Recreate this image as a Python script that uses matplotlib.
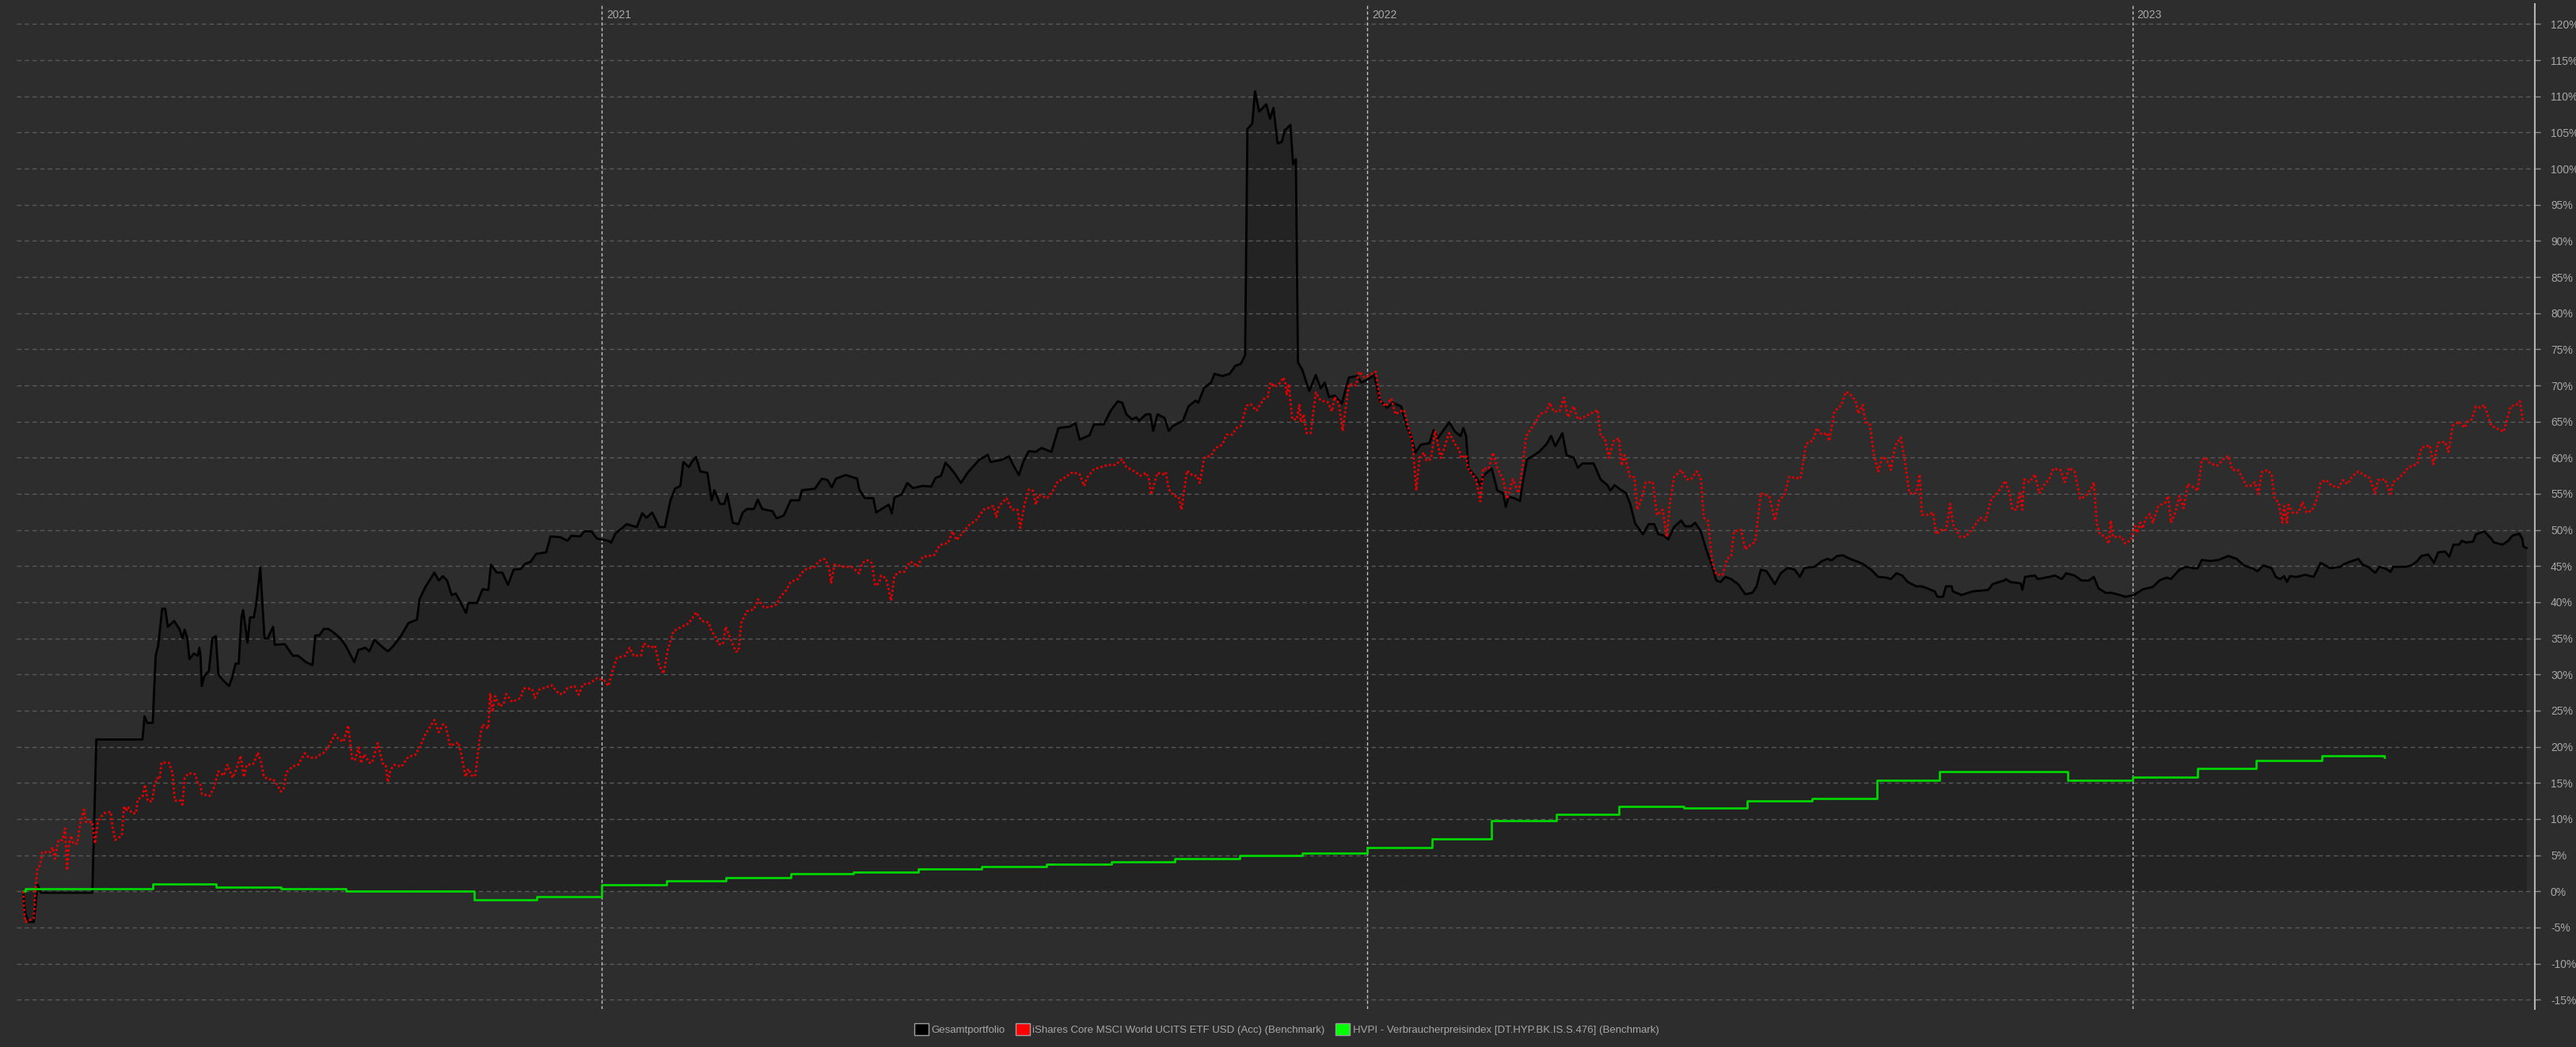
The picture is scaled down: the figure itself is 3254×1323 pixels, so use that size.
import numpy as np
import matplotlib
matplotlib.use('Agg')
import matplotlib.pyplot as plt
import matplotlib.dates as mdates
from matplotlib.patches import Patch

plt.rcParams['font.family'] = ['Liberation Sans', 'DejaVu Sans']

## data: (days since START, % change)
START = '2020-03-31'

black_pts = [
    (0, 0.0), (0.9, -3.0), (2.8, -4.25), (5.1, -4.25), (6.9, 0.9), (8.5, -0.2), (33.0, -0.2), (34.9, 21.0),
    (56.9, 21.0), (57.9, 24.2), (59.2, 23.3), (61.8, 23.3), (63.2, 32.6), (64.4, 34.0), (66.3, 39.1), (67.8, 39.1),
    (69.0, 36.6), (72.0, 37.4), (74.5, 36.3), (76.0, 35.0), (77.0, 36.2), (78.3, 35.0), (79.3, 32.1), (81.4, 32.9),
    (83.3, 32.6), (84.0, 33.7), (84.6, 32.6), (85.2, 28.4), (86.4, 29.8), (88.6, 30.5), (90.2, 35.0), (91.9, 35.3),
    (93.1, 30.0), (95.3, 29.2), (98.2, 28.4), (99.7, 29.6), (101.3, 31.5), (102.8, 31.5), (104.1, 37.9), (104.9, 38.9),
    (107.0, 34.4), (108.2, 37.9), (110.0, 37.9), (111.2, 39.9), (113.1, 44.8), (115.1, 35.0), (116.6, 35.0), (119.2, 36.6),
    (120.0, 34.1), (124.8, 34.2), (128.6, 32.6), (131.1, 32.6), (134.9, 31.7), (138.0, 31.3), (139.3, 35.4), (141.2, 35.4),
    (143.4, 36.3), (145.6, 36.3), (148.1, 35.8), (151.3, 35.0), (153.8, 34.0), (157.9, 31.7), (159.9, 33.4), (163.2, 33.7),
    (165.1, 33.2), (167.5, 34.8), (171.3, 33.8), (173.9, 33.2), (176.4, 33.9), (180.3, 35.4), (183.7, 37.1), (187.8, 37.6),
    (189.0, 40.4), (191.8, 42.1), (196.1, 44.1), (198.2, 43.0), (200.2, 43.6), (202.2, 43.0), (204.3, 41.0), (206.3, 41.2),
    (208.3, 40.15), (211.2, 38.5), (212.3, 39.9), (216.4, 39.9), (219.1, 41.8), (221.8, 41.7), (223.1, 45.2), (225.8, 44.1),
    (228.5, 44.1), (231.2, 42.4), (233.9, 44.5), (237.3, 44.6), (239.3, 45.3), (242.0, 45.6), (244.7, 46.7), (249.4, 46.9),
    (251.5, 49.1), (256.2, 49.0), (259.5, 48.5), (261.5, 49.2), (265.6, 49.1), (267.6, 49.8), (271.0, 49.8), (273.7, 48.8),
    (279.1, 48.5), (280.4, 48.25), (282.4, 49.5), (285.8, 50.3), (287.8, 50.8), (292.6, 50.4), (295.2, 52.3), (297.3, 51.7),
    (300.0, 52.4), (303.4, 50.4), (306.0, 50.4), (308.7, 54.1), (310.8, 55.7), (313.4, 56.1), (314.8, 59.4), (317.5, 58.7),
    (318.8, 59.4), (320.9, 60.1), (322.9, 58.1), (326.3, 57.9), (328.3, 54.1), (329.6, 55.5), (332.3, 53.6), (334.4, 53.6),
    (335.7, 55.0), (338.4, 51.0), (341.1, 50.8), (343.1, 52.4), (345.2, 52.9), (348.5, 52.9), (350.3, 54.2), (352.5, 52.9),
    (357.3, 52.6), (359.3, 51.6), (362.7, 52.0), (366.0, 54.1), (370.1, 54.1), (371.4, 55.5), (377.5, 55.7), (380.9, 57.1),
    (383.6, 56.9), (385.6, 55.9), (387.6, 57.1), (392.3, 57.6), (397.7, 57.1), (398.7, 55.6), (401.4, 54.4), (405.4, 54.4),
    (406.8, 52.4), (408.8, 52.8), (412.8, 53.5), (414.2, 52.3), (415.5, 54.5), (418.9, 54.9), (421.6, 56.5), (424.3, 55.8),
    (429.0, 56.1), (433.0, 56.0), (435.1, 57.2), (437.7, 57.5), (439.8, 59.3), (441.8, 58.7), (444.5, 57.7), (447.2, 56.5),
    (450.6, 58.0), (455.9, 59.7), (460.0, 60.4), (461.3, 59.4), (466.7, 59.7), (470.1, 60.2), (472.1, 59.0), (474.8, 57.6),
    (476.9, 59.4), (479.5, 60.9), (482.9, 60.8), (485.6, 61.35), (490.3, 60.8), (493.7, 64.1), (499.1, 64.3), (501.8, 64.8),
    (503.8, 62.5), (508.5, 63.1), (510.6, 64.6), (515.3, 64.6), (518.6, 66.5), (522.0, 67.8), (524.1, 67.6), (526.1, 66.0),
    (528.8, 65.3), (530.8, 65.6), (532.1, 65.1), (535.5, 66.0), (537.5, 66.0), (538.9, 63.7), (540.9, 66.0), (544.3, 65.5),
    (546.3, 63.7), (548.3, 64.4), (553.0, 65.1), (555.7, 67.1), (559.1, 67.9), (560.4, 67.6), (563.2, 69.7), (566.5, 70.4),
    (568.1, 71.6), (571.9, 71.3), (575.3, 71.6), (578.0, 72.7), (580.7, 73.0), (582.7, 74.2), (583.8, 105.5), (586.1, 106.2),
    (587.4, 110.7), (589.4, 107.9), (592.8, 108.9), (594.6, 106.9), (596.2, 108.4), (598.2, 103.5), (600.2, 103.7), (601.6, 105.3),
    (604.3, 106.05), (605.6, 100.6), (606.9, 101.3), (607.9, 73.2), (609.9, 72.2), (613.3, 69.2), (616.4, 71.45), (618.7, 69.6),
    (620.7, 70.4), (622.7, 68.4), (625.4, 68.6), (628.8, 67.5), (632.2, 71.1), (636.2, 71.3), (638.2, 70.4), (641.6, 70.9),
    (644.3, 71.45), (647.0, 67.9), (650.4, 66.9), (653.0, 67.6), (657.1, 67.1), (659.8, 64.35), (661.8, 63.0), (663.9, 60.7),
    (666.5, 61.8), (670.6, 62.0), (672.6, 63.8), (674.6, 62.7), (680.0, 64.9), (682.8, 63.6), (685.4, 63.0), (686.8, 64.1),
    (688.1, 63.0), (689.2, 58.5), (692.8, 57.3), (694.9, 56.2), (696.2, 57.5), (700.3, 58.5), (703.0, 55.45), (705.7, 55.1),
    (707.0, 53.2), (708.4, 54.6), (711.1, 54.4), (713.8, 54.0), (715.1, 56.6), (717.1, 59.75), (720.5, 60.35), (723.2, 60.9),
    (726.5, 61.9), (728.6, 63.0), (730.6, 61.6), (734.0, 63.4), (736.0, 60.35), (739.4, 60.0), (741.4, 58.6), (743.5, 59.2),
    (748.9, 59.2), (752.2, 57.0), (755.5, 56.2), (756.9, 55.45), (758.9, 56.2), (761.6, 55.6), (764.3, 55.1), (766.3, 53.6),
    (768.7, 50.9), (772.4, 49.4), (775.1, 50.8), (777.8, 50.8), (779.8, 49.4), (781.8, 49.3), (784.5, 48.7), (787.2, 50.4),
    (790.6, 51.3), (792.6, 50.5), (795.3, 50.5), (797.3, 51.0), (800.0, 49.8), (802.7, 47.2), (804.7, 45.6), (807.4, 43.0),
    (809.4, 42.8), (811.7, 43.5), (814.5, 43.2), (817.8, 42.5), (821.2, 41.1), (824.6, 41.3), (826.6, 42.2), (828.6, 44.5),
    (831.3, 44.3), (835.3, 42.5), (838.1, 44.0), (841.4, 44.75), (844.8, 44.5), (847.2, 43.5), (849.5, 44.75), (854.2, 44.9),
    (857.6, 45.65), (860.3, 46.0), (862.3, 45.8), (865.0, 46.4), (867.7, 46.5), (871.1, 46.0), (874.4, 45.65), (877.2, 45.3),
    (881.2, 44.5), (884.6, 43.5), (888.6, 43.4), (890.6, 43.2), (893.3, 44.0), (896.0, 43.7), (898.7, 42.8), (902.7, 42.2),
    (905.4, 42.2), (908.1, 41.9), (911.5, 41.5), (912.8, 40.75), (915.5, 40.75), (916.9, 42.2), (919.6, 42.2), (920.2, 41.5),
    (924.3, 41.0), (929.7, 41.5), (937.1, 41.7), (939.1, 42.5), (944.5, 43.0), (945.6, 43.2), (947.5, 42.8), (952.6, 42.6),
    (953.3, 41.7), (954.6, 43.5), (959.3, 43.7), (960.7, 43.2), (966.1, 43.5), (968.8, 43.7), (972.1, 43.2), (974.2, 44.0),
    (978.2, 43.7), (981.6, 43.0), (985.0, 43.0), (987.4, 43.5), (989.7, 41.9), (993.1, 41.3), (995.8, 41.3), (999.8, 41.0),
    (1002.5, 40.75), (1006.5, 41.0), (1010.9, 41.8), (1015.5, 42.1), (1018.9, 43.06), (1022.2, 43.4), (1024.2, 43.2), (1028.2, 44.5),
    (1031.5, 44.9), (1034.9, 44.7), (1036.9, 44.7), (1038.9, 45.85), (1042.9, 45.7), (1046.9, 45.85), (1051.5, 46.4), (1055.5, 46.0),
    (1058.9, 45.1), (1062.9, 44.7), (1065.5, 44.3), (1068.2, 45.1), (1072.2, 44.7), (1074.2, 43.5), (1076.2, 43.2), (1078.2, 43.6),
    (1079.5, 42.8), (1080.9, 43.6), (1084.2, 43.5), (1088.2, 43.8), (1092.2, 43.5), (1095.6, 45.45), (1100.2, 44.7), (1104.9, 44.9),
    (1106.9, 45.3), (1109.6, 45.6), (1113.6, 46.0), (1115.6, 45.2), (1118.2, 44.9), (1121.6, 44.05), (1123.6, 44.9), (1126.9, 44.6),
    (1128.9, 44.2), (1130.2, 44.9), (1136.2, 44.9), (1138.9, 45.1), (1141.6, 45.7), (1143.6, 46.4), (1146.9, 46.6), (1148.3, 46.0),
    (1149.6, 45.45), (1151.6, 46.9), (1154.9, 47.0), (1156.9, 46.3), (1158.9, 47.97), (1161.6, 47.97), (1162.9, 48.5), (1164.9, 48.25),
    (1168.3, 48.4), (1169.6, 49.4), (1173.6, 49.8), (1176.9, 48.8), (1178.3, 48.25), (1182.3, 47.97), (1185.0, 48.5), (1187.0, 49.2),
    (1190.3, 49.5), (1191.7, 48.8), (1192.3, 47.7), (1193.7, 47.5),
]

red_pts = [
    (0, 0.0), (0.9, -4.25), (4.0, -3.9), (5.1, -3.7), (5.9, 0.3), (6.8, 3.2), (8.1, 3.6), (9.1, 5.4),
    (12.8, 5.4), (14.1, 6.1), (15.1, 4.5), (16.9, 7.1), (18.8, 7.1), (20.0, 8.7), (21.0, 2.9), (21.9, 6.6),
    (22.9, 7.7), (23.9, 6.6), (25.8, 6.6), (27.3, 9.45), (29.0, 11.3), (29.8, 9.6), (33.0, 9.6), (34.2, 6.6),
    (35.5, 9.3), (36.8, 10.2), (38.7, 10.8), (41.8, 11.0), (42.8, 8.6), (43.9, 7.1), (47.1, 7.7), (48.1, 11.8),
    (49.1, 11.1), (50.0, 11.7), (51.9, 10.8), (53.8, 10.8), (54.6, 12.7), (56.9, 13.1), (58.1, 14.75), (59.4, 12.5),
    (61.5, 12.4), (62.6, 14.6), (63.8, 15.65), (65.1, 15.5), (66.0, 17.8), (69.5, 17.8), (71.3, 16.35), (72.3, 12.55),
    (75.1, 12.55), (76.0, 12.0), (77.0, 15.7), (78.9, 16.35), (82.1, 16.2), (83.3, 14.9), (84.6, 14.7), (85.2, 13.45),
    (89.0, 13.2), (90.9, 14.3), (93.1, 16.6), (95.7, 16.0), (97.4, 17.5), (99.9, 15.7), (101.5, 16.8), (103.7, 18.75),
    (105.3, 15.8), (106.6, 17.5), (109.7, 17.6), (112.0, 19.2), (113.5, 17.8), (114.8, 15.8), (117.3, 15.5), (119.2, 15.5),
    (120.8, 14.9), (122.9, 13.8), (124.2, 14.2), (125.5, 16.45), (128.6, 17.3), (131.1, 17.5), (134.3, 19.1), (136.2, 18.5),
    (139.3, 18.45), (140.6, 18.75), (143.1, 19.1), (145.6, 20.0), (148.7, 21.7), (150.6, 21.0), (152.8, 20.7), (155.0, 22.95),
    (156.9, 18.2), (158.2, 18.2), (160.1, 19.9), (161.1, 17.7), (162.6, 18.95), (165.1, 17.8), (166.4, 17.8), (169.1, 20.5),
    (171.4, 17.7), (172.9, 17.5), (173.9, 15.1), (175.2, 16.8), (177.0, 17.5), (180.4, 17.25), (183.7, 18.6), (187.1, 18.9),
    (189.2, 20.0), (191.8, 21.7), (196.1, 23.7), (198.2, 22.0), (200.2, 23.1), (201.5, 22.85), (203.6, 20.15), (207.6, 20.6),
    (209.0, 18.9), (211.0, 15.85), (212.3, 16.95), (214.3, 15.85), (215.7, 16.1), (217.7, 21.1), (219.1, 23.1), (221.8, 22.5),
    (222.7, 27.3), (223.8, 24.8), (225.1, 27.0), (227.2, 25.6), (229.2, 25.9), (230.3, 27.3), (233.2, 26.2), (237.3, 26.75),
    (238.6, 28.1), (242.7, 28.0), (244.0, 26.75), (246.1, 27.9), (248.1, 28.1), (252.1, 28.5), (255.5, 27.3), (257.5, 27.3),
    (259.5, 28.1), (262.9, 28.4), (264.9, 27.2), (266.9, 28.6), (270.3, 28.8), (273.7, 29.5), (277.0, 29.2), (279.1, 28.4),
    (281.1, 30.55), (283.1, 32.3), (287.2, 32.6), (289.2, 33.7), (291.2, 32.6), (294.6, 32.6), (295.9, 34.3), (299.3, 33.7),
    (301.3, 34.0), (303.4, 31.2), (305.4, 30.1), (307.4, 33.4), (310.1, 36.0), (314.1, 36.6), (317.5, 37.1), (320.9, 38.6),
    (323.6, 37.4), (326.9, 37.2), (328.3, 36.0), (330.3, 35.1), (331.7, 34.2), (333.7, 34.2), (335.0, 36.6), (337.7, 34.7),
    (339.8, 33.2), (341.1, 33.2), (342.4, 37.1), (345.1, 38.75), (348.5, 39.0), (350.5, 40.4), (353.2, 39.3), (355.9, 39.3),
    (359.3, 39.7), (360.6, 40.55), (364.0, 41.7), (366.0, 42.8), (369.4, 43.2), (371.4, 44.1), (373.5, 44.6), (377.5, 44.9),
    (379.5, 45.7), (382.2, 46.0), (384.2, 44.9), (385.3, 42.7), (386.9, 45.2), (391.0, 44.9), (395.0, 44.9), (398.7, 44.0),
    (400.0, 45.4), (402.7, 45.8), (404.7, 45.4), (406.3, 42.3), (408.1, 42.6), (409.1, 43.7), (411.5, 43.3), (413.9, 40.2),
    (415.5, 43.7), (418.2, 44.2), (420.2, 44.2), (422.9, 45.6), (424.9, 45.4), (426.3, 44.9), (429.0, 46.3), (434.4, 46.5),
    (437.1, 47.9), (441.1, 48.2), (443.1, 49.8), (445.2, 48.6), (448.5, 49.8), (451.2, 50.7), (454.6, 51.4), (458.0, 52.8),
    (462.7, 53.3), (464.1, 51.8), (465.4, 53.3), (468.8, 54.4), (471.5, 52.8), (474.2, 52.8), (475.5, 50.3), (477.5, 53.5),
    (479.5, 55.6), (481.6, 55.4), (482.9, 53.5), (484.3, 54.9), (488.3, 54.4), (491.0, 55.4), (493.1, 56.6), (496.4, 57.2),
    (500.5, 58.0), (503.8, 57.7), (505.9, 56.1), (507.2, 57.2), (510.6, 58.4), (513.9, 58.7), (517.3, 59.0), (520.7, 59.0),
    (524.1, 59.75), (526.1, 58.7), (529.4, 58.2), (532.8, 57.5), (535.5, 57.9), (536.8, 57.1), (537.9, 54.9), (540.9, 57.9),
    (543.6, 57.7), (544.9, 58.0), (546.3, 55.6), (549.0, 54.7), (551.0, 54.6), (552.4, 52.8), (553.7, 55.6), (555.0, 58.2),
    (557.8, 57.5), (559.8, 57.5), (561.1, 56.5), (563.2, 60.0), (566.5, 60.3), (568.6, 61.35), (571.9, 61.8), (573.9, 63.2),
    (576.6, 63.2), (578.6, 64.1), (580.7, 64.4), (583.4, 67.2), (585.4, 67.4), (588.1, 66.5), (591.5, 68.1), (593.5, 68.4),
    (594.8, 70.4), (596.9, 69.8), (599.6, 70.4), (600.9, 71.1), (601.8, 70.5), (602.5, 68.65), (603.5, 70.2), (605.2, 65.3),
    (607.3, 65.3), (608.6, 67.3), (609.3, 64.9), (610.6, 66.0), (612.0, 63.4), (614.0, 63.4), (616.4, 69.0), (618.7, 67.9),
    (622.1, 67.7), (624.1, 66.4), (625.4, 68.4), (627.4, 67.5), (629.2, 63.7), (632.2, 70.2), (635.6, 70.0), (637.1, 71.9),
    (639.6, 71.1), (642.3, 71.45), (645.0, 71.9), (647.0, 67.9), (649.7, 67.1), (652.4, 68.2), (654.4, 66.0), (656.4, 66.4),
    (658.5, 66.6), (660.5, 64.1), (662.5, 62.2), (664.3, 55.45), (665.9, 59.95), (667.9, 60.7), (669.2, 59.6), (671.3, 59.8),
    (673.3, 63.7), (676.0, 59.95), (680.0, 63.4), (682.8, 61.9), (684.8, 61.1), (685.7, 59.95), (688.1, 60.35), (688.8, 58.6),
    (692.8, 57.0), (694.9, 53.95), (696.2, 58.5), (698.9, 58.5), (700.9, 60.7), (703.0, 58.5), (705.7, 57.0), (707.7, 54.3),
    (710.4, 57.0), (713.1, 55.1), (715.1, 58.9), (716.7, 63.0), (720.5, 64.6), (723.2, 66.0), (726.5, 66.4), (727.9, 67.6),
    (729.9, 66.4), (732.6, 66.4), (734.7, 68.3), (736.7, 65.6), (739.4, 67.1), (741.4, 65.3), (744.1, 65.6), (747.5, 66.1),
    (750.8, 66.6), (752.2, 63.0), (754.2, 62.7), (756.2, 60.0), (758.3, 62.3), (760.9, 62.7), (762.3, 58.9), (763.6, 60.35),
    (766.3, 57.3), (768.3, 57.3), (769.7, 52.8), (771.7, 54.3), (773.8, 56.6), (777.1, 56.6), (779.1, 52.05), (781.8, 52.8),
    (783.8, 49.05), (785.2, 53.6), (787.2, 57.3), (790.6, 58.3), (793.3, 57.0), (795.3, 57.0), (798.0, 58.1), (800.0, 57.2),
    (801.4, 51.7), (803.4, 51.3), (805.4, 45.65), (807.4, 43.8), (810.4, 43.8), (812.5, 46.0), (814.5, 46.4), (815.8, 49.8),
    (819.2, 50.0), (821.2, 47.3), (823.9, 48.0), (825.9, 48.3), (828.6, 55.1), (832.6, 54.7), (835.3, 51.3), (837.4, 54.1),
    (840.0, 54.9), (842.1, 57.35), (847.5, 57.1), (850.2, 61.9), (853.6, 62.4), (855.3, 64.1), (857.6, 63.2), (860.3, 63.4),
    (861.2, 62.3), (863.7, 66.4), (867.1, 67.3), (869.1, 69.1), (870.7, 68.9), (873.8, 67.9), (875.1, 66.1), (877.2, 67.3),
    (878.5, 64.9), (880.6, 64.6), (882.6, 60.35), (884.6, 58.1), (886.6, 60.1), (888.6, 59.8), (890.6, 58.3), (892.6, 61.6),
    (895.3, 62.8), (897.4, 59.4), (899.4, 55.1), (902.7, 55.1), (904.4, 57.7), (905.4, 52.1), (908.1, 52.1), (910.8, 52.4),
    (912.2, 49.4), (914.2, 50.0), (916.9, 50.0), (918.9, 53.6), (920.2, 50.8), (923.6, 49.05), (926.3, 49.05), (930.4, 50.5),
    (933.1, 51.7), (935.8, 51.3), (938.5, 54.3), (941.2, 55.1), (943.2, 55.8), (945.2, 56.8), (947.2, 55.1), (948.6, 52.8),
    (950.6, 52.8), (952.0, 55.1), (953.3, 52.8), (954.2, 57.0), (956.7, 56.6), (959.3, 57.7), (961.4, 55.1), (964.1, 56.4),
    (966.1, 57.0), (968.1, 58.5), (971.5, 58.3), (973.5, 56.6), (975.6, 58.6), (978.2, 58.1), (980.9, 54.3), (983.6, 54.7),
    (986.3, 55.8), (987.4, 56.6), (988.8, 50.9), (990.4, 49.4), (993.1, 49.05), (994.5, 48.1), (995.5, 51.3), (996.5, 49.05),
    (1000.5, 49.05), (1002.5, 48.1), (1005.2, 48.7), (1007.2, 50.55), (1008.2, 49.6), (1009.5, 51.0), (1010.6, 50.2), (1012.2, 51.6),
    (1014.2, 52.2), (1015.5, 51.0), (1018.2, 53.3), (1021.5, 53.8), (1022.9, 54.7), (1024.2, 51.0), (1026.2, 52.4), (1028.2, 54.7),
    (1030.2, 53.0), (1032.2, 56.35), (1035.5, 55.8), (1036.9, 55.4), (1038.9, 59.7), (1040.9, 60.0), (1042.9, 59.2), (1046.2, 58.9),
    (1048.9, 59.7), (1051.5, 60.25), (1053.5, 58.3), (1056.2, 58.3), (1058.2, 57.2), (1060.2, 56.1), (1062.2, 56.1), (1064.2, 56.6),
    (1065.8, 55.0), (1067.5, 58.0), (1070.2, 58.3), (1072.2, 57.6), (1073.5, 54.4), (1075.5, 53.8), (1077.3, 51.0), (1078.2, 53.3),
    (1079.5, 51.0), (1080.2, 53.5), (1082.2, 52.4), (1084.9, 52.4), (1086.9, 53.8), (1088.9, 52.4), (1091.5, 52.7), (1093.5, 54.1),
    (1095.6, 56.6), (1098.2, 56.9), (1100.9, 56.1), (1104.2, 55.9), (1106.2, 56.9), (1108.2, 56.35), (1110.9, 57.5), (1113.6, 58.1),
    (1116.2, 57.6), (1118.9, 57.2), (1121.6, 55.1), (1122.9, 56.9), (1126.2, 57.0), (1128.9, 55.0), (1130.2, 56.6), (1132.9, 57.2),
    (1135.6, 58.0), (1137.6, 58.7), (1141.6, 59.1), (1143.6, 61.4), (1147.6, 61.7), (1149.3, 59.1), (1151.6, 62.05), (1154.9, 62.2),
    (1156.5, 60.8), (1158.6, 64.45), (1161.6, 65.0), (1164.2, 64.15), (1165.6, 65.0), (1167.6, 65.3), (1169.6, 67.1), (1171.6, 66.9),
    (1173.6, 67.3), (1176.9, 64.45), (1179.6, 64.05), (1182.9, 63.6), (1186.2, 67.1), (1188.9, 67.3), (1190.6, 67.8), (1191.9, 65.3),
    (1192.9, 65.0),
]

# monthly CPI level (value holds from that date on)
green_dates = [
    '2020-03-31', '2020-04-01', '2020-05-01', '2020-06-01', '2020-07-01', '2020-08-01', '2020-09-01', '2020-10-01',
    '2020-11-01', '2020-12-01', '2021-01-01', '2021-02-01', '2021-03-01', '2021-04-01', '2021-05-01', '2021-06-01',
    '2021-07-01', '2021-08-01', '2021-09-01', '2021-10-01', '2021-11-01', '2021-12-01', '2022-01-01', '2022-02-01',
    '2022-03-01', '2022-04-01', '2022-05-01', '2022-06-01', '2022-07-01', '2022-08-01', '2022-09-01', '2022-10-01',
    '2022-11-01', '2022-12-01', '2023-01-01', '2023-02-01', '2023-03-01', '2023-04-01', '2023-05-01',
]
green_vals = [
    0.0, 0.4, 0.4, 1.05, 0.55, 0.4, 0.0, 0.0,
    -1.2, -0.7, 0.9, 1.4, 1.9, 2.4, 2.7, 3.1,
    3.4, 3.7, 4.1, 4.5, 4.9, 5.3, 6.05, 7.2,
    9.8, 10.6, 11.7, 11.55, 12.5, 12.8, 15.35, 16.6,
    16.6, 15.3, 15.8, 16.95, 18.1, 18.75, 18.5,
]

year_marks = ['2021-01-01', '2022-01-01', '2023-01-01']
y_ticks = list(range(-15, 121, 5))
legend_labels = [
    'Gesamtportfolio',
    'iShares Core MSCI World UCITS ETF USD (Acc) (Benchmark)',
    'HVPI - Verbraucherpreisindex [DT.HYP.BK.IS.S.476] (Benchmark)',
]
legend_colors = ['#000000', '#ff0000', '#00ff00']

## style
BG = '#2d2d2d'
FILL = '#232323'
TXT = '#a8a8a8'

W, H = 3254, 1323
fig = plt.figure(figsize=(W / 100, H / 100), dpi=100, facecolor=BG)
ax = fig.add_axes([21 / W, 48.5 / H, 3181 / W, 1270 / H], facecolor=BG)

base = mdates.date2num(np.datetime64(START))
bx = base + np.array([p[0] for p in black_pts])
by = np.array([p[1] for p in black_pts])
rx = base + np.array([p[0] for p in red_pts])
ry = np.array([p[1] for p in red_pts])
gx = mdates.date2num(np.array(green_dates, dtype='datetime64[D]'))

ax.fill_between(bx, by, 0, color=FILL, lw=0, zorder=0.2)
ax.plot(bx, by, color='#000000', lw=2, zorder=3)
ax.plot(rx, ry, color='#e60000', lw=2, ls=(0, (1, 1)), zorder=3.5)
ax.plot(gx, green_vals, drawstyle='steps-post', color='#00d400', lw=2, zorder=3.2)

for ym in year_marks:
    d = mdates.date2num(np.datetime64(ym))
    ax.axvline(d, color='#c4c4c4', ls=(0, (3, 2)), lw=1, zorder=1)
    ax.annotate(ym[:4], xy=(d, 0.9888), xycoords=('data', 'axes fraction'),
                xytext=(4, 0), textcoords='offset points', va='center', ha='left',
                fontsize=10, color=TXT)

ax.set_xlim(base - 3.1, base + 1197.7)
ax.set_ylim(-16.24, 122.84)
ax.set_xticks([])
ax.yaxis.tick_right()
ax.set_yticks(y_ticks)
ax.set_yticklabels([f'{t}%' for t in y_ticks])
ax.tick_params(axis='y', length=4.8, width=1, color='#8c8c8c', pad=9.6,
               labelsize=10, labelcolor=TXT)
for s in ['top', 'left', 'bottom']:
    ax.spines[s].set_visible(False)
ax.spines['right'].set_color('#b4b4b4')
ax.spines['right'].set_linewidth(1.5)
ax.grid(axis='y', color='#5a5a5a', ls=(0, (4, 3)), lw=1)
ax.set_axisbelow(True)

handles = [Patch(facecolor=c, edgecolor='#a0a0a0', lw=1) for c in legend_colors]
fig.legend(handles, legend_labels, loc='center', bbox_to_anchor=(0.4994, 1 - 1300.5 / H),
           ncol=3, frameon=False, fontsize=9.5, labelcolor=TXT,
           handlelength=1.4, handleheight=1.4, handletextpad=0.25, columnspacing=1.0)

fig.savefig('out.png', dpi=100, facecolor=BG)
